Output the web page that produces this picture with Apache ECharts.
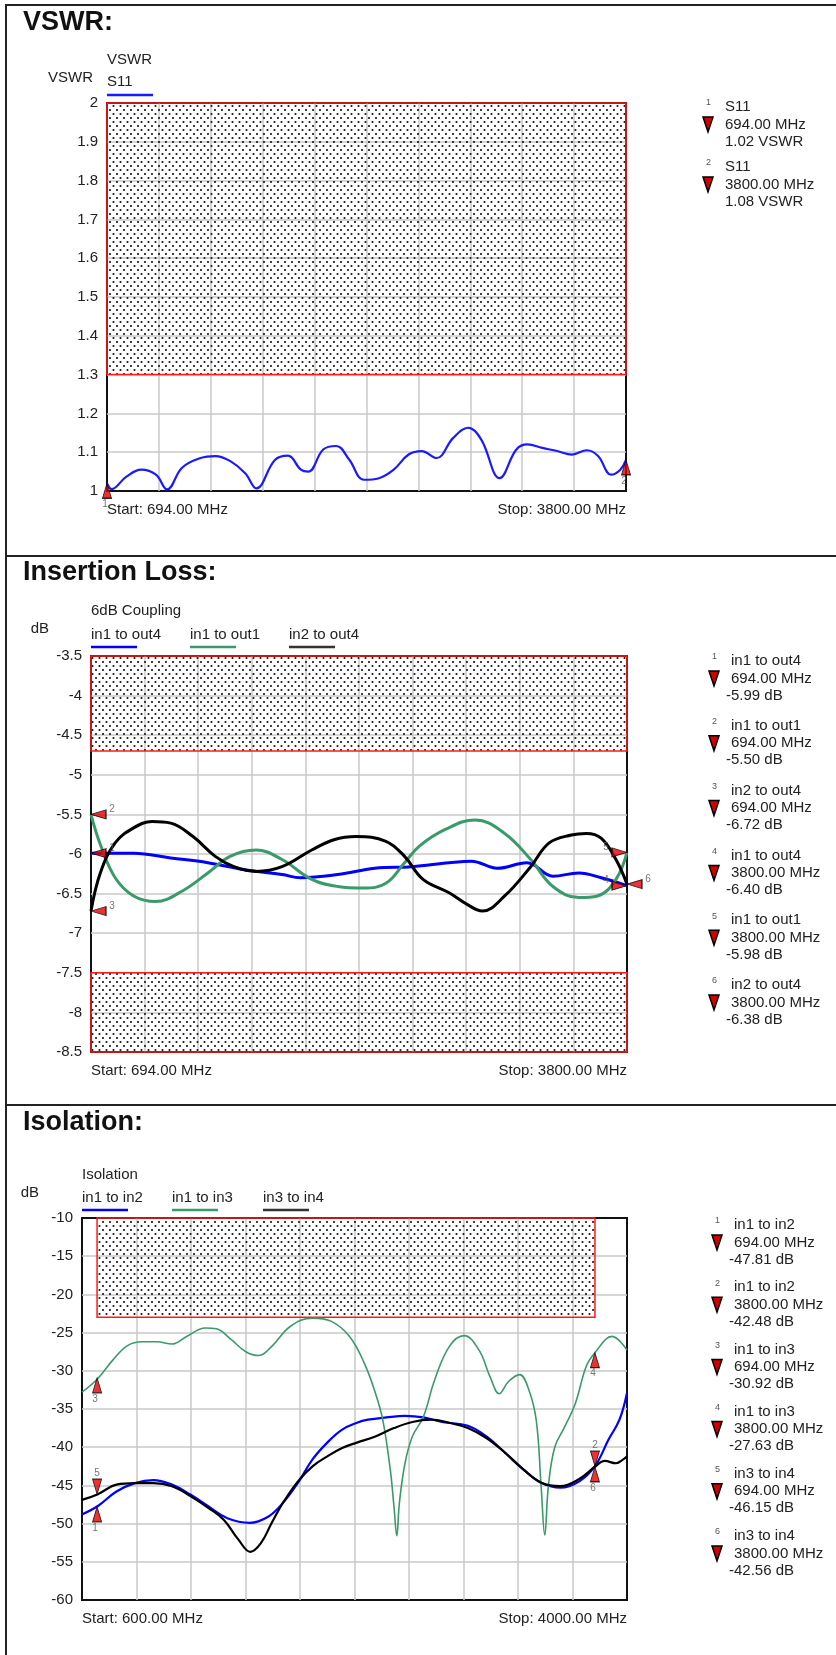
<!DOCTYPE html>
<html>
<head>
<meta charset="utf-8">
<title>VSWR / Insertion Loss / Isolation</title>
<script src="https://cdn.jsdelivr.net/npm/echarts@6.0.0/dist/echarts.min.js"></script>
<style>
    html, body { margin: 0; padding: 0; background: #fff; }
    #main { width: 836px; height: 1655px; }
</style>
</head>
<body>
<div id="main"></div>
<script>
// ---------- VSWR ----------
const vswrSpan = [694, 3800]
const vswrAxis = [1, 2, 0.1]
const vswrLimits = [[694, 1.3, 3800, 2]]
const vswrFreq = [694, 721, 810, 899, 987, 1054, 1143, 1254, 1343, 1432, 1521, 1588, 1699, 1777, 1854, 1899,
    1988, 2066, 2143, 2232, 2321, 2410, 2499, 2577, 2666, 2766, 2855, 2933, 3044, 3144, 3210, 3299, 3388,
    3477, 3566, 3633, 3711, 3766, 3800]
const vswrS11 = [1.02, 1.005, 1.037, 1.055, 1.042, 1.004, 1.06, 1.085, 1.09, 1.077, 1.046, 1.007, 1.08, 1.091,
    1.055, 1.05, 1.107, 1.116, 1.081, 1.029, 1.033, 1.055, 1.094, 1.103, 1.085, 1.137, 1.163, 1.133, 1.033,
    1.107, 1.12, 1.111, 1.103, 1.094, 1.105, 1.09, 1.042, 1.055, 1.08]
const vswrMkName = ['S11', 'S11']
const vswrMkFreq = [694, 3800]
const vswrMkVal = [1.02, 1.08]

// ---------- Insertion loss ----------
const ilSpan = [694, 3800]
const ilAxis = [-8.5, -3.5, 0.5]
const ilLimits = [[694, -4.7, 3800, -3.5], [694, -8.5, 3800, -7.5]]
const ilFreqO4 = [694, 941, 1156, 1371, 1586, 1801, 1909, 2124, 2339, 2554, 2769, 2898, 3048, 3220, 3371,
    3521, 3650, 3800]
const ilIn1Out4 = [-5.99, -5.99, -6.05, -6.11, -6.2, -6.26, -6.3, -6.26, -6.18, -6.16, -6.11, -6.09, -6.18,
    -6.11, -6.28, -6.24, -6.3, -6.40]
const ilFreqO1 = [694, 748, 834, 941, 1070, 1221, 1371, 1500, 1651, 1801, 1973, 2124, 2274, 2403, 2511, 2597,
    2747, 2919, 3091, 3242, 3371, 3521, 3629, 3736, 3800]
const ilIn1Out1 = [-5.5, -5.88, -6.3, -6.53, -6.6, -6.47, -6.24, -6.03, -5.95, -6.07, -6.32, -6.41, -6.43,
    -6.37, -6.11, -5.9, -5.69, -5.57, -5.74, -6.07, -6.41, -6.55, -6.53, -6.32, -5.98]
const ilFreq24 = [694, 748, 834, 941, 1049, 1156, 1285, 1414, 1522, 1651, 1801, 1973, 2102, 2231, 2403, 2511,
    2618, 2769, 2876, 2962, 3091, 3242, 3349, 3478, 3564, 3650, 3736, 3800]
const ilIn2Out4 = [-6.72, -6.24, -5.86, -5.67, -5.59, -5.61, -5.78, -6.03, -6.16, -6.22, -6.16, -5.95, -5.82,
    -5.78, -5.84, -6.03, -6.32, -6.49, -6.64, -6.72, -6.53, -6.16, -5.86, -5.76, -5.74, -5.8, -6.07, -6.38]
const ilMkName = ['in1 to out4', 'in1 to out1', 'in2 to out4', 'in1 to out4', 'in1 to out1', 'in2 to out4']
const ilMkFreq = [694, 694, 694, 3800, 3800, 3800]
const ilMkVal = [-5.99, -5.50, -6.72, -6.40, -5.98, -6.38]

// ---------- Isolation ----------
const isoSpan = [600, 4000]
const isoAxis = [-60, -10, 5]
const isoLimits = [[694, -23, 3800, -10]]
const isoFreq12 = [600, 699, 815, 930, 1045, 1161, 1276, 1392, 1507, 1646, 1761, 1853, 1946, 2038, 2130, 2223,
    2315, 2384, 2499, 2615, 2730, 2846, 3007, 3123, 3238, 3353, 3469, 3584, 3700, 3800, 3885, 3953, 4000]
const isoIn1In2 = [-48.8, -47.7, -45.8, -44.7, -44.3, -44.9, -46.2, -47.8, -49.3, -49.9, -49.1, -47.3, -44.7,
    -41.6, -39.4, -37.7, -36.8, -36.4, -36.1, -35.9, -36.1, -36.7, -37.2, -38.6, -40.7, -42.9, -44.7, -45.3,
    -44.5, -42.48, -39.0, -36.4, -32.9]
const isoFreq13 = [600, 699, 792, 884, 976, 1069, 1161, 1253, 1369, 1438, 1530, 1622, 1703, 1784, 1899, 2038,
    2153, 2269, 2361, 2430, 2476, 2523, 2546, 2564, 2580, 2615, 2661, 2730, 2800, 2892, 2984, 3077, 3146,
    3203, 3261, 3330, 3388, 3434, 3464, 3487, 3510, 3549, 3607, 3677, 3746, 3800, 3907, 4000]
const isoIn1In3 = [-32.8, -31.0, -28.6, -26.7, -26.2, -26.2, -26.5, -25.5, -24.4, -24.5, -25.9, -27.5, -28.0,
    -26.8, -24.2, -23.1, -23.5, -25.5, -29.0, -32.9, -36.4, -42.9, -47.7, -51.6, -47.3, -42.1, -38.6, -36.0,
    -31.2, -26.8, -25.4, -27.3, -30.8, -33.0, -31.4, -30.5, -32.5, -36.5, -45, -51.5, -45, -40, -37.5, -34.3,
    -29.4, -27.63, -25.5, -27.3]
const isoFreq34 = [600, 699, 815, 930, 1045, 1161, 1276, 1392, 1484, 1576, 1650, 1715, 1784, 1853, 1946, 2038,
    2130, 2223, 2315, 2430, 2546, 2661, 2776, 2892, 3007, 3123, 3238, 3353, 3469, 3584, 3700, 3800, 3862,
    3931, 3977, 4000]
const isoIn3In4 = [-46.9, -46.15, -44.9, -44.7, -44.7, -45.1, -46.4, -48.0, -49.5, -52.1, -53.7, -52.6, -49.9,
    -47.3, -44.5, -42.5, -41.2, -40.1, -39.4, -38.6, -37.5, -36.7, -36.4, -36.8, -37.5, -38.8, -40.7, -42.9,
    -44.7, -45.1, -44.2, -42.56, -41.8, -42.1, -41.6, -41.2]
const isoMkName = ['in1 to in2', 'in1 to in2', 'in1 to in3', 'in1 to in3', 'in3 to in4', 'in3 to in4']
const isoMkFreq = [694, 3800, 694, 3800, 694, 3800]
const isoMkVal = [-47.81, -42.48, -30.92, -27.63, -46.15, -42.56]

// ---------- styles / layout ----------
const FONT = '"Liberation Sans", Arial, sans-serif'
const TXT = '#222'
const BLUE = '#0000ff'
const GREEN = '#3a9a6c'
const BLACK = '#000000'

const panels = [
    {
        title: 'VSWR:', titleY: 23, unit: 'VSWR',
        box: [107, 103, 519, 388], span: vswrSpan, axis: vswrAxis, limits: vswrLimits,
        yName: 'VSWR', yNameX: 93, yNameY: 78,
        legendTitle: 'VSWR', legendTitleY: 60, legendY: 82, legendLineY: 95,
        traces: [{ name: 'S11', f: vswrFreq, v: vswrS11, color: '#1a1aff', width: 2.2, lx: 107 }],
        mk: [vswrMkName, vswrMkFreq, vswrMkVal], mkDir: ['up', 'up'],
        list: { x: 725, y: 107, step: 60 },
    },
    {
        title: 'Insertion Loss:', titleY: 573, unit: 'dB',
        box: [91, 656, 536, 396], span: ilSpan, axis: ilAxis, limits: ilLimits,
        yName: 'dB', yNameX: 49, yNameY: 629,
        legendTitle: '6dB Coupling', legendTitleY: 611, legendY: 635, legendLineY: 647,
        traces: [
            { name: 'in1 to out4', f: ilFreqO4, v: ilIn1Out4, color: BLUE, width: 3, lx: 91 },
            { name: 'in1 to out1', f: ilFreqO1, v: ilIn1Out1, color: GREEN, width: 3, lx: 190 },
            { name: 'in2 to out4', f: ilFreq24, v: ilIn2Out4, color: BLACK, width: 3, lx: 289 },
        ],
        mk: [ilMkName, ilMkFreq, ilMkVal], mkDir: ['left', 'left', 'left', 'right', 'right', 'left'],
        list: { x: 731, y: 661, step: 64.8 },
    },
    {
        title: 'Isolation:', titleY: 1123, unit: 'dB',
        box: [82, 1218, 545, 382], span: isoSpan, axis: isoAxis, limits: isoLimits,
        yName: 'dB', yNameX: 39, yNameY: 1193,
        legendTitle: 'Isolation', legendTitleY: 1175, legendY: 1198, legendLineY: 1210,
        traces: [
            { name: 'in1 to in2', f: isoFreq12, v: isoIn1In2, color: BLUE, width: 2.2, lx: 82 },
            { name: 'in1 to in3', f: isoFreq13, v: isoIn1In3, color: GREEN, width: 1.6, lx: 172 },
            { name: 'in3 to in4', f: isoFreq34, v: isoIn3In4, color: BLACK, width: 2.2, lx: 263 },
        ],
        mk: [isoMkName, isoMkFreq, isoMkVal], mkDir: ['up', 'down', 'up', 'up', 'down', 'up'],
        list: { x: 734, y: 1225, step: 62.2 },
    },
]

// triangle orientation: rotation, offset so that the tip sits on the point, label offset
const DIRS = {
    up: { rot: 0, off: [0, 7.5], lab: [-2, 21] },
    down: { rot: 180, off: [0, -7.5], lab: [0, -21] },
    left: { rot: 90, off: [7.5, 0], lab: [21, -5] },
    right: { rot: -90, off: [-7.5, 0], lab: [-21, -5] },
}

// dotted fill of the limit boxes
const dots = document.createElement('canvas')
dots.width = 7
dots.height = 8
const dc = dots.getContext('2d')
dc.fillStyle = '#111'
dc.beginPath(); dc.arc(1.5, 2, 1.05, 0, Math.PI * 2); dc.fill()
dc.beginPath(); dc.arc(5, 6, 1.05, 0, Math.PI * 2); dc.fill()

const gridLine = {
    show: true, showMinLine: false, showMaxLine: false,
    lineStyle: { color: '#c8c8c8', width: 1.5 },
}

const txt = (text, x, y, opt = {}) => ({
    type: 'text', x, y, silent: true,
    style: {
        text, fill: opt.fill || TXT, font: opt.font || `15px ${FONT}`,
        align: opt.align || 'left', textAlign: opt.align || 'left',
        verticalAlign: 'middle', textVerticalAlign: 'middle',
    },
})
const ln = (x1, y1, x2, y2, stroke, lineWidth) => ({
    type: 'line', silent: true, shape: { x1, y1, x2, y2 }, style: { stroke, lineWidth },
})

const grid = []
const xAxis = []
const yAxis = []
const series = []
const graphic = [
    ln(5, 5, 836, 5, '#222', 2),
    ln(6, 5, 6, 1655, '#222', 2),
    ln(6, 556, 836, 556, '#222', 2),
    ln(6, 1105, 836, 1105, '#222', 2),
]

panels.forEach((p, gi) => {
    const [left, top, width, height] = p.box
    grid.push({ left, top, width, height, show: true, borderColor: '#111', borderWidth: 2, backgroundColor: 'transparent' })
    xAxis.push({ type: 'value', gridIndex: gi, min: p.span[0], max: p.span[1], show: false })
    xAxis.push({
        type: 'value', gridIndex: gi, min: 0, max: 10, interval: 1,
        axisLine: { show: false }, axisTick: { show: false }, axisLabel: { show: false }, splitLine: gridLine,
    })
    yAxis.push({
        type: 'value', gridIndex: gi, min: p.axis[0], max: p.axis[1], interval: p.axis[2],
        axisLine: { show: false }, axisTick: { show: false }, splitLine: gridLine,
        axisLabel: {
            color: TXT, fontSize: 15, fontFamily: FONT, margin: 9,
            formatter: v => String(parseFloat(v.toFixed(2))),
        },
    })
    const xi = gi * 2
    p.traces.forEach((t, k) => {
        const s = {
            type: 'line', name: t.name, xAxisIndex: xi, yAxisIndex: gi, z: 3,
            data: t.f.map((f, j) => [f, t.v[j]]),
            symbol: 'none', smooth: 0.4, silent: true,
            lineStyle: { color: t.color, width: t.width },
        }
        if (k === 0) {
            s.markArea = {
                silent: true, z: 2,
                itemStyle: { color: { image: dots, repeat: 'repeat' }, borderColor: '#ff1a1a', borderWidth: 1.5 },
                data: p.limits.map(b => [{ coord: [b[0], b[1]] }, { coord: [b[2], b[3]] }]),
            }
        }
        series.push(s)
        // legend entry
        graphic.push(txt(t.name, t.lx, p.legendY))
        graphic.push(ln(t.lx, p.legendLineY, t.lx + 46, p.legendLineY, t.color === BLACK ? '#333' : t.color, 2.5))
    })

    // markers on the plot
    const [names, freqs, vals] = p.mk
    series.push({
        type: 'scatter', xAxisIndex: xi, yAxisIndex: gi, z: 6, silent: true,
        itemStyle: { color: '#e60000', borderColor: '#000', borderWidth: 1 },
        data: freqs.map((f, i) => {
            const d = DIRS[p.mkDir[i]]
            return { value: [f, vals[i]], symbol: 'triangle', symbolSize: [9, 15], symbolRotate: d.rot, symbolOffset: d.off }
        }),
    })
    series.push({
        type: 'scatter', xAxisIndex: xi, yAxisIndex: gi, z: 7, silent: true,
        symbolSize: 1, itemStyle: { color: 'rgba(0,0,0,0)' },
        label: { show: true, position: 'inside', fontSize: 10, fontFamily: FONT, color: '#555', formatter: o => String(o.dataIndex + 1) },
        data: freqs.map((f, i) => ({ value: [f, vals[i]], label: { offset: DIRS[p.mkDir[i]].lab } })),
    })

    // titles and axis captions
    graphic.push(txt(p.title, 23, p.titleY, { font: `bold 27px ${FONT}`, fill: '#111' }))
    graphic.push(txt(p.legendTitle, p.traces[0].lx, p.legendTitleY))
    graphic.push(txt(p.yName, p.yNameX, p.yNameY, { align: 'right' }))
    graphic.push(txt(`Start: ${p.span[0].toFixed(2)} MHz`, left, top + height + 19))
    graphic.push(txt(`Stop: ${p.span[1].toFixed(2)} MHz`, left + width, top + height + 19, { align: 'right' }))

    // marker read-out list
    names.forEach((n, i) => {
        const y0 = p.list.y + i * p.list.step
        const x = p.list.x
        graphic.push(txt(String(i + 1), x - 19, y0 - 4, { font: `9px ${FONT}`, fill: '#555' }))
        graphic.push(txt(n, x, y0))
        graphic.push({
            type: 'polygon', silent: true,
            shape: { points: [[x - 22, y0 + 10], [x - 12, y0 + 10], [x - 17, y0 + 25]] },
            style: { fill: '#d40000', stroke: '#000', lineWidth: 1.5 },
        })
        graphic.push(txt(`${freqs[i].toFixed(2)} MHz`, x, y0 + 17.5))
        graphic.push(txt(`${vals[i].toFixed(2)} ${p.unit}`, vals[i] < 0 ? x - 5 : x, y0 + 34.5))
    })
})

const chart = echarts.init(document.getElementById('main'))
chart.setOption({
    animation: false,
    backgroundColor: '#fff',
    grid, xAxis, yAxis, series, graphic,
})
</script>
</body>
</html>
